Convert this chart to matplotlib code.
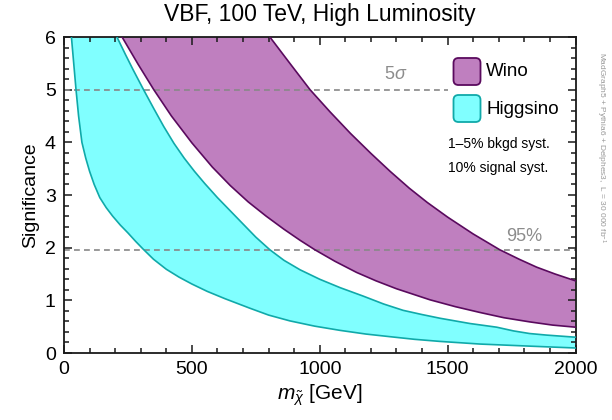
import matplotlib

matplotlib.use("Agg")
import matplotlib.pyplot as plt
from matplotlib.patches import FancyBboxPatch
import numpy as np

plt.rcParams["font.family"] = ["Liberation Sans", "DejaVu Sans"]
plt.rcParams["mathtext.fontset"] = "custom"
plt.rcParams["mathtext.rm"] = "Liberation Sans"
plt.rcParams["mathtext.it"] = "Liberation Sans:italic"

# --- data (mass [GeV], significance) ----------------------------------------

higgsino_lo_m = [29, 38, 47, 57, 70, 85, 100, 118, 140, 165, 190, 220, 250,
                 280, 310, 350, 400, 450, 500, 560, 630, 727, 800, 883, 980,
                 1079, 1180, 1274, 1370, 1470, 1626, 1822, 2000]
higgsino_lo_s = [6.0, 5.5, 5.0, 4.5, 4.0, 3.7, 3.45, 3.2, 2.95, 2.76, 2.60,
                 2.43, 2.28, 2.12, 1.97, 1.78, 1.59, 1.44, 1.31, 1.17, 1.03,
                 0.85, 0.72, 0.61, 0.51, 0.43, 0.36, 0.31, 0.26, 0.22, 0.17,
                 0.13, 0.095]

higgsino_hi_m = [207, 240, 270, 311, 350, 390, 430, 470, 510, 550, 600, 650,
                 700, 750, 805, 860, 923, 1000, 1080, 1170, 1250, 1326, 1400,
                 1470, 1587, 1692, 1757, 1820, 1887, 2000]
higgsino_hi_s = [6.0, 5.67, 5.38, 5.0, 4.65, 4.30, 3.98, 3.70, 3.45, 3.22,
                 2.95, 2.70, 2.45, 2.20, 1.96, 1.76, 1.58, 1.40, 1.24, 1.08,
                 0.93, 0.81, 0.73, 0.66, 0.56, 0.49, 0.42, 0.37, 0.34, 0.30]

wino_lo_m = [227, 290, 351, 420, 500, 580, 650, 720, 790, 860, 923, 981, 1060,
             1144, 1220, 1300, 1431, 1530, 1626, 1720, 1822, 1910, 2000]
wino_lo_s = [6.0, 5.48, 5.0, 4.50, 3.99, 3.53, 3.18, 2.87, 2.60, 2.35, 2.14,
             1.96, 1.74, 1.53, 1.37, 1.22, 1.01, 0.88, 0.77, 0.67, 0.59, 0.53,
             0.49]

wino_hi_m = [805, 880, 962, 1040, 1120, 1200, 1275, 1350, 1420, 1500, 1600,
             1704, 1780, 1848, 1920, 2000]
wino_hi_s = [6.0, 5.52, 5.0, 4.58, 4.17, 3.79, 3.45, 3.13, 2.86, 2.58, 2.26,
             1.96, 1.78, 1.63, 1.50, 1.37]

five_sigma = 5.0
ninety_five = 1.96

WINO_FILL, WINO_EDGE = "#bf7fbf", "#5a0a5e"
HIGG_FILL, HIGG_EDGE = "#80ffff", "#10a9a9"
GREY = "#8c8c8c"


def band(ax, lo_m, lo_s, hi_m, hi_s, fill, edge):
    xs = list(hi_m) + list(lo_m)[::-1]
    ys = list(hi_s) + list(lo_s)[::-1]
    ax.fill(xs, ys, color=fill, lw=0, zorder=1)
    ax.plot(lo_m, lo_s, color=edge, lw=1.2, zorder=3)
    ax.plot(hi_m, hi_s, color=edge, lw=1.2, zorder=3)


fig = plt.figure(figsize=(6.12, 4.2), dpi=100)
ax = fig.add_axes([64 / 612, 67 / 420, 511.5 / 612, 316 / 420])

band(ax, higgsino_lo_m, higgsino_lo_s, higgsino_hi_m, higgsino_hi_s,
     HIGG_FILL, HIGG_EDGE)
band(ax, wino_lo_m, wino_lo_s, wino_hi_m, wino_hi_s, WINO_FILL, WINO_EDGE)

ax.plot([0, 1500], [five_sigma] * 2, ls=(0, (3.5, 2.5)), color="#888888",
        lw=1.2, zorder=2)
ax.plot([0, 2000], [ninety_five] * 2, ls=(0, (3.5, 2.5)), color="#888888",
        lw=1.2, zorder=2)
ax.text(1298, 5.28, r"5$\sigma$", color=GREY, fontsize=13, ha="center",
        va="center")
ax.text(1798, 2.22, "95%", color=GREY, fontsize=13, ha="center", va="center")

ax.set_xlim(0, 2000)
ax.set_ylim(0, 6)
ax.set_xticks(np.arange(0, 2001, 500))
ax.set_xticks(np.arange(0, 2001, 100), minor=True)
ax.set_yticks(np.arange(0, 7, 1))
ax.set_yticks(np.arange(0, 6.01, 0.2), minor=True)
ax.tick_params(which="both", direction="in", top=True, right=True,
               width=1.1, color="#1a1a1a", labelsize=14)
ax.tick_params(axis="x", which="both", pad=6)
ax.tick_params(axis="y", which="both", pad=6)
ax.tick_params(which="major", length=6)
ax.tick_params(which="minor", length=3.5)
for sp in ax.spines.values():
    sp.set_linewidth(1.3)
    sp.set_color("#1a1a1a")

ax.set_xlabel(r"$m_{\tilde{\chi}}$ [GeV]", fontsize=15, labelpad=3)
ax.set_ylabel("Significance", fontsize=14, labelpad=4)
fig.text(320 / 612, 1 - 15 / 420, "VBF, 100 TeV, High Luminosity",
         fontsize=16.5, ha="center", va="center")

# legend built by hand: rounded swatches + labels
for y_px, fill, edge, label in [(58, WINO_FILL, WINO_EDGE, "Wino"),
                                (95, HIGG_FILL, HIGG_EDGE, "Higgsino")]:
    box = FancyBboxPatch((453.5 / 100, (420 - y_px - 27) / 100), 0.27, 0.27,
                         boxstyle="round,pad=0,rounding_size=0.05",
                         transform=fig.dpi_scale_trans, facecolor=fill,
                         edgecolor=edge, lw=1.3)
    fig.patches.append(box)
    fig.text(486 / 612, 1 - (y_px + 14) / 420, label, fontsize=13.5,
             ha="left", va="center")
fig.text(448 / 612, 1 - 144 / 420, "1\u20135% bkgd syst.", fontsize=10,
         ha="left", va="center")
fig.text(448 / 612, 1 - 168 / 420, "10% signal syst.", fontsize=10,
         ha="left", va="center")

fig.text(601 / 612, 1 - 52 / 420,
         r"MadGraph5 + Pythia6 + Delphes3,  L = 30 000 fb$^{-1}$",
         fontsize=6.0, color="#999999", rotation=270, ha="center", va="top")

fig.savefig("out.png", dpi=100)
